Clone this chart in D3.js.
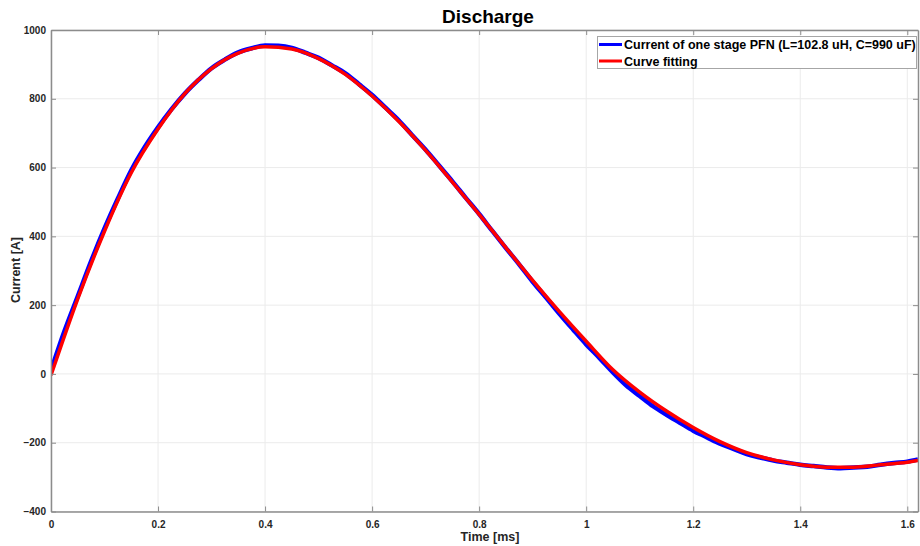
<!DOCTYPE html>
<html><head><meta charset="utf-8">
<script src="https://cdn.jsdelivr.net/npm/d3@7"></script>
<style>
html,body{margin:0;padding:0;background:#fff;}
svg{display:block;font-family:"Liberation Sans",Arial,sans-serif;}
</style></head>
<body><svg id="c" width="920" height="546"></svg>
<script>
// ---- data ----
const title = "Discharge";
const xLabel = "Time [ms]";
const yLabel = "Current [A]";
const xTicks = [0, 0.2, 0.4, 0.6, 0.8, 1, 1.2, 1.4, 1.6];
const yTicks = [-400, -200, 0, 200, 400, 600, 800, 1000];
const seriesNames = ["Current of one stage PFN (L=102.8 uH, C=990 uF)", "Curve fitting"];

const measuredTime = [0,0.025,0.05,0.075,0.1,0.125,0.15,0.175,0.2,0.225,0.25,0.275,0.3,0.325,0.35,0.375,0.4,0.425,0.45,0.475,0.5,0.525,0.55,0.575,0.6,0.625,0.65,0.675,0.7,0.725,0.75,0.775,0.8,0.825,0.85,0.875,0.9,0.925,0.95,0.975,1.0,1.025,1.05,1.075,1.1,1.125,1.15,1.175,1.2,1.225,1.25,1.275,1.3,1.325,1.35,1.375,1.4,1.425,1.45,1.475,1.5,1.525,1.55,1.575,1.6,1.62];
const measuredCurrent = [10,124,226,328,423,510,592,659,717,769,815,854,889,914,935,947,955,954,948,934,919,897,874,843,811,774,737,694,652,606,560,512,465,415,366,318,268,222,175,130,86,46,4,-34,-64,-94,-119,-142,-165,-184,-203,-218,-233,-243,-252,-258,-264,-268,-272,-274,-272,-270,-264,-259,-255,-249];

const fitTime = [0,0.05,0.1,0.15,0.2,0.25,0.3,0.35,0.4,0.45,0.5,0.55,0.6,0.65,0.7,0.75,0.8,0.85,0.9,0.95,1.0,1.05,1.1,1.15,1.2,1.25,1.3,1.35,1.4,1.45,1.5,1.55,1.6,1.62];
const fitCurrent = [-4,218,415,585,712,815,888,933,951,945,917,871,808,734,650,558,464,367,272,181,95,12,-53,-108,-156,-197,-229,-250,-264,-271,-271,-264,-257,-252];

const colors = ["#0000ff", "#ff0000"];

// ---- layout ----
const L = 51, R = 918, T = 30, B = 511.5;
const svg = d3.select("#c");
const x = d3.scaleLinear().domain([0, 1.62]).range([L, R]);
const y = d3.scaleLinear().domain([-400, 1000]).range([B, T]);

// grid
svg.append("g").selectAll("line").data(xTicks).join("line")
  .attr("x1", d => x(d)).attr("x2", d => x(d)).attr("y1", T).attr("y2", B)
  .attr("stroke", "#ebebeb").attr("stroke-width", 1);
svg.append("g").selectAll("line").data(yTicks).join("line")
  .attr("y1", d => y(d)).attr("y2", d => y(d)).attr("x1", L).attr("x2", R)
  .attr("stroke", "#ebebeb").attr("stroke-width", 1);

// clip
svg.append("clipPath").attr("id", "clip").append("rect")
  .attr("x", L).attr("y", T).attr("width", R - L).attr("height", B - T);

const lineM = d3.line().x((d, i) => x(measuredTime[i])).y(d => y(d)).curve(d3.curveMonotoneX);
const lineF = d3.line().x((d, i) => x(fitTime[i])).y(d => y(d)).curve(d3.curveMonotoneX);

svg.append("path").attr("clip-path", "url(#clip)").datum(measuredCurrent)
  .attr("d", lineM).attr("fill", "none").attr("stroke", colors[0]).attr("stroke-width", 4.5);
svg.append("path").attr("clip-path", "url(#clip)").datum(fitCurrent)
  .attr("d", lineF).attr("fill", "none").attr("stroke", colors[1]).attr("stroke-width", 3.5);

// axes
const axCol = "#8c8c8c";
const gB = svg.append("g").attr("transform", `translate(0,${B})`)
  .call(d3.axisBottom(x).tickValues(xTicks).tickFormat(d3.format("~g")).tickSizeInner(-5).tickSizeOuter(0).tickPadding(9));
const gL = svg.append("g").attr("transform", `translate(${L},0)`)
  .call(d3.axisLeft(y).tickValues(yTicks).tickFormat(d3.format("d")).tickSizeInner(-5).tickSizeOuter(0).tickPadding(5));
const gT = svg.append("g").attr("transform", `translate(0,${T})`)
  .call(d3.axisTop(x).tickValues(xTicks).tickFormat("").tickSizeInner(-5).tickSizeOuter(0));
const gR = svg.append("g").attr("transform", `translate(${R},0)`)
  .call(d3.axisRight(y).tickValues(yTicks).tickFormat("").tickSizeInner(-5).tickSizeOuter(0));
[gB, gL, gT, gR].forEach(g => {
  g.selectAll(".domain").attr("stroke", axCol).attr("stroke-width", 1.5);
  g.selectAll(".tick line").attr("stroke", axCol);
  g.selectAll("text").attr("fill", "#262626").attr("font-size", 10).attr("font-weight", "bold")
    .attr("font-family", "'Liberation Sans',Arial,sans-serif");
});

// labels
svg.append("text").attr("x", 488).attr("y", 23).attr("text-anchor", "middle")
  .attr("font-size", 19).attr("font-weight", "bold").attr("fill", "#000").text(title);
svg.append("text").attr("x", 490).attr("y", 541).attr("text-anchor", "middle")
  .attr("font-size", 12.5).attr("font-weight", "bold").attr("fill", "#262626").text(xLabel);
svg.append("text").attr("transform", "translate(20,270) rotate(-90)").attr("text-anchor", "middle")
  .attr("font-size", 12.5).attr("font-weight", "bold").attr("fill", "#262626").text(yLabel);

// legend
const lg = svg.append("g");
lg.append("rect").attr("x", 597.5).attr("y", 36.5).attr("width", 319).attr("height", 32)
  .attr("fill", "#fff").attr("stroke", "#a6a6a6").attr("stroke-width", 1);
seriesNames.forEach((n, i) => {
  const yy = 44.5 + i * 16.5;
  lg.append("line").attr("x1", 599).attr("x2", 622).attr("y1", yy).attr("y2", yy)
    .attr("stroke", colors[i]).attr("stroke-width", 3);
  lg.append("text").attr("x", 624).attr("y", yy + 4.5).attr("font-size", 12.5).attr("font-weight", "bold")
    .attr("fill", "#000").text(n);
});
</script></body></html>
